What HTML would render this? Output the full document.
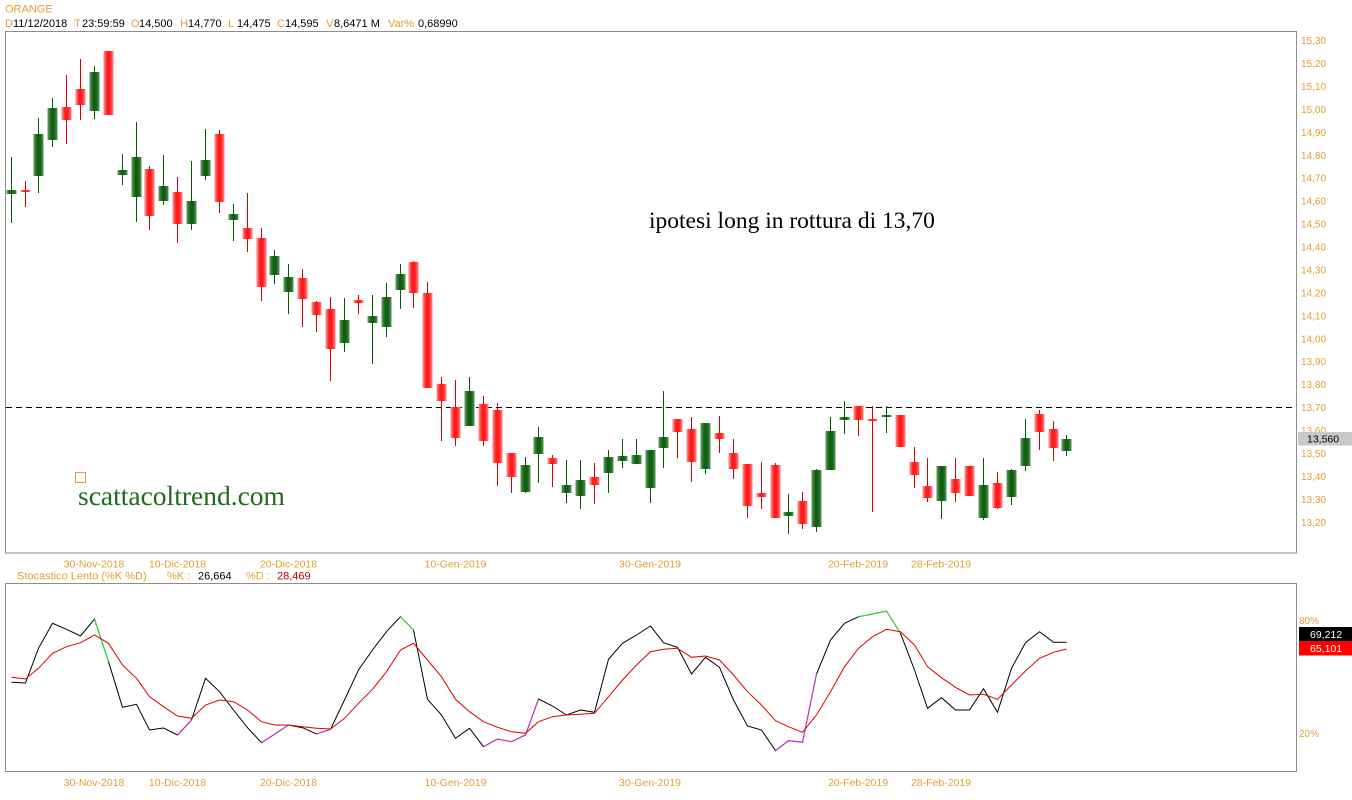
<!DOCTYPE html>
<html>
<head>
<meta charset="utf-8">
<style>
html,body{margin:0;padding:0;background:#fff;}
body{width:1352px;height:800px;overflow:hidden;}
svg{display:block;}
.o{fill:#e0a030;}
.t{font-family:"Liberation Sans",Arial,sans-serif;}
.wg{fill:#0a5a0a;}
.wr{fill:#d80000;}
</style>
</head>
<body>
<svg width="1352" height="800" viewBox="0 0 1352 800" xmlns="http://www.w3.org/2000/svg">
<defs>
<linearGradient id="G" x1="0" y1="0" x2="1" y2="0">
<stop offset="0" stop-color="#6a9e6a"/><stop offset="0.35" stop-color="#136313"/><stop offset="0.65" stop-color="#0e5e0e"/><stop offset="1" stop-color="#5a935a"/>
</linearGradient>
<linearGradient id="R" x1="0" y1="0" x2="1" y2="0">
<stop offset="0" stop-color="#ff9a9a"/><stop offset="0.35" stop-color="#ff1c1c"/><stop offset="0.65" stop-color="#ff1c1c"/><stop offset="1" stop-color="#ff8a8a"/>
</linearGradient>
</defs>
<rect x="0" y="0" width="1352" height="800" fill="#fff"/>

<!-- header -->
<g class="t" font-size="11">
<text x="5" y="12.5" class="o">ORANGE</text>
<text x="5" y="27" class="o">D</text><text x="13" y="27">11/12/2018</text>
<text x="74" y="27" class="o">T</text><text x="82" y="27">23:59:59</text>
<text x="131" y="27" class="o">O</text><text x="139" y="27">14,500</text>
<text x="180" y="27" class="o">H</text><text x="188" y="27">14,770</text>
<text x="228" y="27" class="o">L</text><text x="237" y="27">14,475</text>
<text x="277" y="27" class="o">C</text><text x="285" y="27">14,595</text>
<text x="326" y="27" class="o">V</text><text x="334" y="27">8,6471 M</text>
<text x="388" y="27" class="o">Var%</text><text x="418" y="27">0,68990</text>
</g>

<!-- frames -->
<rect x="5.5" y="31.5" width="1291" height="521.5" fill="none" stroke="#8c8c8c" stroke-width="1"/>
<rect x="5.5" y="583.5" width="1291" height="188" fill="none" stroke="#8c8c8c" stroke-width="1"/>

<!-- price axis labels -->
<g class="t o" font-size="10">
<text x="1301" y="44">15,30</text>
<text x="1301" y="67">15,20</text>
<text x="1301" y="90">15,10</text>
<text x="1301" y="113">15,00</text>
<text x="1301" y="136">14,90</text>
<text x="1301" y="159">14,80</text>
<text x="1301" y="181.5">14,70</text>
<text x="1301" y="204.5">14,60</text>
<text x="1301" y="227.5">14,50</text>
<text x="1301" y="250.5">14,40</text>
<text x="1301" y="273.5">14,30</text>
<text x="1301" y="296.5">14,20</text>
<text x="1301" y="319.5">14,10</text>
<text x="1301" y="342.5">14,00</text>
<text x="1301" y="365">13,90</text>
<text x="1301" y="388">13,80</text>
<text x="1301" y="411">13,70</text>
<text x="1301" y="434">13,60</text>
<text x="1301" y="457">13,50</text>
<text x="1301" y="480">13,40</text>
<text x="1301" y="503">13,30</text>
<text x="1301" y="526">13,20</text>
</g>
<rect x="1298" y="432" width="54" height="13.5" fill="#c8c8c8"/>
<text x="1307" y="442.5" class="t" font-size="10.5" fill="#000">13,560</text>

<!-- dashed line -->
<line x1="6" y1="407.5" x2="1296" y2="407.5" stroke="#000" stroke-width="1" stroke-dasharray="6,4"/>

<!-- candles -->
<g>
<rect x="11" y="157" width="1" height="66" class="wg"/><rect x="6.5" y="190" width="10" height="4" fill="url(#G)"/>
<rect x="25" y="181" width="1" height="26" class="wr"/><rect x="20.5" y="190" width="10" height="2" fill="url(#R)"/>
<rect x="38" y="118" width="1" height="75" class="wg"/><rect x="33.5" y="134" width="10" height="42" fill="url(#G)"/>
<rect x="52" y="98" width="1" height="49" class="wg"/><rect x="47.5" y="108" width="10" height="32" fill="url(#G)"/>
<rect x="66" y="75" width="1" height="69" class="wr"/><rect x="61.5" y="107" width="10" height="13" fill="url(#R)"/>
<rect x="80" y="59" width="1" height="61" class="wr"/><rect x="75.5" y="89" width="10" height="16" fill="url(#R)"/>
<rect x="94" y="66" width="1" height="53" class="wg"/><rect x="89.5" y="72" width="10" height="39" fill="url(#G)"/>
<rect x="108" y="51" width="1" height="64" class="wr"/><rect x="103.5" y="51" width="10" height="64" fill="url(#R)"/>
<rect x="122" y="154" width="1" height="31" class="wg"/><rect x="117.5" y="170" width="10" height="5" fill="url(#G)"/>
<rect x="136" y="122" width="1" height="100" class="wg"/><rect x="131.5" y="157" width="10" height="40" fill="url(#G)"/>
<rect x="149" y="166" width="1" height="64" class="wr"/><rect x="144.5" y="169" width="10" height="47" fill="url(#R)"/>
<rect x="163" y="155" width="1" height="50" class="wg"/><rect x="158.5" y="186" width="10" height="15" fill="url(#G)"/>
<rect x="177" y="177" width="1" height="66" class="wr"/><rect x="172.5" y="192" width="10" height="32" fill="url(#R)"/>
<rect x="191" y="161" width="1" height="69" class="wg"/><rect x="186.5" y="201" width="10" height="23" fill="url(#G)"/>
<rect x="205" y="129" width="1" height="51" class="wg"/><rect x="200.5" y="160" width="10" height="16" fill="url(#G)"/>
<rect x="219" y="130" width="1" height="83" class="wr"/><rect x="214.5" y="134" width="10" height="68" fill="url(#R)"/>
<rect x="233" y="204" width="1" height="37" class="wg"/><rect x="228.5" y="214" width="10" height="6" fill="url(#G)"/>
<rect x="247" y="193" width="1" height="59" class="wr"/><rect x="242.5" y="228" width="10" height="11" fill="url(#R)"/>
<rect x="261" y="228" width="1" height="73" class="wr"/><rect x="256.5" y="238" width="10" height="49" fill="url(#R)"/>
<rect x="274" y="250" width="1" height="34" class="wg"/><rect x="269.5" y="256" width="10" height="19" fill="url(#G)"/>
<rect x="288" y="264" width="1" height="50" class="wg"/><rect x="283.5" y="277" width="10" height="15" fill="url(#G)"/>
<rect x="302" y="269" width="1" height="58" class="wr"/><rect x="297.5" y="278" width="10" height="21" fill="url(#R)"/>
<rect x="316" y="301" width="1" height="31" class="wr"/><rect x="311.5" y="302" width="10" height="13" fill="url(#R)"/>
<rect x="330" y="297" width="1" height="84" class="wr"/><rect x="325.5" y="309" width="10" height="40" fill="url(#R)"/>
<rect x="344" y="298" width="1" height="54" class="wg"/><rect x="339.5" y="320" width="10" height="23" fill="url(#G)"/>
<rect x="358" y="295" width="1" height="19" class="wr"/><rect x="353.5" y="300" width="10" height="3" fill="url(#R)"/>
<rect x="372" y="295" width="1" height="69" class="wg"/><rect x="367.5" y="316" width="10" height="7" fill="url(#G)"/>
<rect x="386" y="283" width="1" height="54" class="wg"/><rect x="381.5" y="297" width="10" height="30" fill="url(#G)"/>
<rect x="400" y="264" width="1" height="45" class="wg"/><rect x="395.5" y="274" width="10" height="16" fill="url(#G)"/>
<rect x="413" y="261" width="1" height="47" class="wr"/><rect x="408.5" y="262" width="10" height="31" fill="url(#R)"/>
<rect x="427" y="282" width="1" height="106" class="wr"/><rect x="422.5" y="293" width="10" height="95" fill="url(#R)"/>
<rect x="441" y="377" width="1" height="64" class="wr"/><rect x="436.5" y="384" width="10" height="17" fill="url(#R)"/>
<rect x="455" y="380" width="1" height="66" class="wr"/><rect x="450.5" y="407" width="10" height="31" fill="url(#R)"/>
<rect x="469" y="377" width="1" height="49" class="wg"/><rect x="464.5" y="391" width="10" height="35" fill="url(#G)"/>
<rect x="483" y="396" width="1" height="50" class="wr"/><rect x="478.5" y="404" width="10" height="37" fill="url(#R)"/>
<rect x="497" y="403" width="1" height="83" class="wr"/><rect x="492.5" y="410" width="10" height="53" fill="url(#R)"/>
<rect x="511" y="453" width="1" height="40" class="wr"/><rect x="506.5" y="453" width="10" height="24" fill="url(#R)"/>
<rect x="525" y="457" width="1" height="36" class="wg"/><rect x="520.5" y="465" width="10" height="27" fill="url(#G)"/>
<rect x="538" y="427" width="1" height="56" class="wg"/><rect x="533.5" y="437" width="10" height="17" fill="url(#G)"/>
<rect x="552" y="455" width="1" height="32" class="wr"/><rect x="547.5" y="458" width="10" height="6" fill="url(#R)"/>
<rect x="566" y="460" width="1" height="43" class="wg"/><rect x="561.5" y="485" width="10" height="8" fill="url(#G)"/>
<rect x="580" y="460" width="1" height="49" class="wg"/><rect x="575.5" y="480" width="10" height="16" fill="url(#G)"/>
<rect x="594" y="463" width="1" height="41" class="wr"/><rect x="589.5" y="477" width="10" height="8" fill="url(#R)"/>
<rect x="608" y="450" width="1" height="43" class="wg"/><rect x="603.5" y="457" width="10" height="16" fill="url(#G)"/>
<rect x="622" y="439" width="1" height="29" class="wg"/><rect x="617.5" y="456" width="10" height="5" fill="url(#G)"/>
<rect x="636" y="439" width="1" height="25" class="wg"/><rect x="631.5" y="455" width="10" height="9" fill="url(#G)"/>
<rect x="650" y="450" width="1" height="53" class="wg"/><rect x="645.5" y="450" width="10" height="38" fill="url(#G)"/>
<rect x="663" y="391" width="1" height="77" class="wg"/><rect x="658.5" y="437" width="10" height="11" fill="url(#G)"/>
<rect x="677" y="419" width="1" height="39" class="wr"/><rect x="672.5" y="419" width="10" height="13" fill="url(#R)"/>
<rect x="691" y="417" width="1" height="65" class="wr"/><rect x="686.5" y="429" width="10" height="33" fill="url(#R)"/>
<rect x="705" y="423" width="1" height="51" class="wg"/><rect x="700.5" y="423" width="10" height="46" fill="url(#G)"/>
<rect x="719" y="416" width="1" height="37" class="wr"/><rect x="714.5" y="433" width="10" height="6" fill="url(#R)"/>
<rect x="733" y="439" width="1" height="40" class="wr"/><rect x="728.5" y="453" width="10" height="16" fill="url(#R)"/>
<rect x="747" y="464" width="1" height="54" class="wr"/><rect x="742.5" y="464" width="10" height="42" fill="url(#R)"/>
<rect x="761" y="462" width="1" height="47" class="wr"/><rect x="756.5" y="493" width="10" height="4" fill="url(#R)"/>
<rect x="775" y="463" width="1" height="55" class="wr"/><rect x="770.5" y="465" width="10" height="53" fill="url(#R)"/>
<rect x="788" y="494" width="1" height="40" class="wg"/><rect x="783.5" y="512" width="10" height="4" fill="url(#G)"/>
<rect x="802" y="492" width="1" height="37" class="wr"/><rect x="797.5" y="501" width="10" height="23" fill="url(#R)"/>
<rect x="816" y="469" width="1" height="63" class="wg"/><rect x="811.5" y="470" width="10" height="57" fill="url(#G)"/>
<rect x="830" y="417" width="1" height="53" class="wg"/><rect x="825.5" y="431" width="10" height="39" fill="url(#G)"/>
<rect x="844" y="401" width="1" height="33" class="wg"/><rect x="839.5" y="417" width="10" height="3" fill="url(#G)"/>
<rect x="858" y="406" width="1" height="30" class="wr"/><rect x="853.5" y="406" width="10" height="14" fill="url(#R)"/>
<rect x="872" y="406" width="1" height="106" class="wr"/><rect x="867.5" y="419" width="10" height="2" fill="url(#R)"/>
<rect x="886" y="406" width="1" height="27" class="wg"/><rect x="881.5" y="415" width="10" height="2" fill="url(#G)"/>
<rect x="900" y="415" width="1" height="32" class="wr"/><rect x="895.5" y="415" width="10" height="32" fill="url(#R)"/>
<rect x="914" y="447" width="1" height="41" class="wr"/><rect x="909.5" y="462" width="10" height="13" fill="url(#R)"/>
<rect x="927" y="458" width="1" height="44" class="wr"/><rect x="922.5" y="486" width="10" height="12" fill="url(#R)"/>
<rect x="941" y="466" width="1" height="53" class="wg"/><rect x="936.5" y="466" width="10" height="35" fill="url(#G)"/>
<rect x="955" y="458" width="1" height="44" class="wr"/><rect x="950.5" y="479" width="10" height="14" fill="url(#R)"/>
<rect x="969" y="466" width="1" height="30" class="wr"/><rect x="964.5" y="466" width="10" height="30" fill="url(#R)"/>
<rect x="983" y="458" width="1" height="62" class="wg"/><rect x="978.5" y="485" width="10" height="33" fill="url(#G)"/>
<rect x="997" y="472" width="1" height="37" class="wr"/><rect x="992.5" y="483" width="10" height="25" fill="url(#R)"/>
<rect x="1011" y="469" width="1" height="36" class="wg"/><rect x="1006.5" y="470" width="10" height="27" fill="url(#G)"/>
<rect x="1025" y="419" width="1" height="52" class="wg"/><rect x="1020.5" y="438" width="10" height="28" fill="url(#G)"/>
<rect x="1039" y="410" width="1" height="40" class="wr"/><rect x="1034.5" y="414" width="10" height="18" fill="url(#R)"/>
<rect x="1053" y="421" width="1" height="40" class="wr"/><rect x="1048.5" y="429" width="10" height="19" fill="url(#R)"/>
<rect x="1066" y="435" width="1" height="21" class="wg"/><rect x="1061.5" y="439" width="10" height="12" fill="url(#G)"/>
</g>

<!-- annotations -->
<text x="649" y="228" font-family="'Liberation Serif','Times New Roman',serif" font-size="23.5" fill="#000">ipotesi long in rottura di 13,70</text>
<rect x="75.5" y="472.5" width="10" height="10" fill="none" stroke="#e0a030" stroke-width="1"/>
<text x="78" y="505" font-family="'Liberation Serif','Times New Roman',serif" font-size="27.5" fill="#1b6d1b">scattacoltrend.com</text>

<!-- date labels -->
<g class="t o" font-size="10.5" text-anchor="middle">
<text x="94" y="567.5">30-Nov-2018</text>
<text x="177.5" y="567.5">10-Dic-2018</text>
<text x="288.5" y="567.5">20-Dic-2018</text>
<text x="455.5" y="567.5">10-Gen-2019</text>
<text x="650" y="567.5">30-Gen-2019</text>
<text x="858" y="567.5">20-Feb-2019</text>
<text x="941" y="567.5">28-Feb-2019</text>
<text x="94" y="786">30-Nov-2018</text>
<text x="177.5" y="786">10-Dic-2018</text>
<text x="288.5" y="786">20-Dic-2018</text>
<text x="455.5" y="786">10-Gen-2019</text>
<text x="650" y="786">30-Gen-2019</text>
<text x="858" y="786">20-Feb-2019</text>
<text x="941" y="786">28-Feb-2019</text>
</g>

<!-- stochastic header -->
<g class="t" font-size="11">
<text x="17" y="579.5" class="o">Stocastico Lento (%K %D)</text>
<text x="167" y="579.5" class="o">%K :</text>
<text x="198" y="579.5" fill="#000">26,664</text>
<text x="246" y="579.5" class="o">%D :</text>
<text x="277" y="579.5" fill="#c00000">28,469</text>
</g>

<!-- stochastic scale -->
<g class="t o" font-size="10">
<text x="1299" y="624">80%</text>
<text x="1299" y="737">20%</text>
</g>

<!-- %K -->
<polyline fill="none" stroke="#000" stroke-width="1" points="11.5,682.3 25.5,683 38.5,648.3 52.5,623.3 66.5,629.3 80.5,636 94.5,619 108.5,661.7 122.5,707.3 136.5,704.3 149.5,730 163.5,728 177.5,735 191.5,720 205.5,678.3 219.5,691.7 233.5,710 247.5,727.7 261.5,742.7 274.5,734.3 288.5,725 302.5,727.7 316.5,734 330.5,729.3 344.5,700 358.5,670 372.5,650 386.5,631.7 400.5,616.7 413.5,630 427.5,699.3 441.5,715 455.5,738.3 469.5,728.3 483.5,746.7 497.5,739 511.5,741.7 525.5,735 538.5,699 552.5,706 566.5,715 580.5,710 594.5,712.3 608.5,659.3 622.5,643.3 636.5,635 650.5,626 663.5,642.7 677.5,647.3 691.5,674 705.5,657.3 719.5,667.3 733.5,700 747.5,726 761.5,730 775.5,750.7 788.5,740.7 802.5,742.3 816.5,674 830.5,640 844.5,623.3 858.5,616.7 872.5,614 886.5,611 900.5,633.3 914.5,670 927.5,708.3 941.5,697.7 955.5,710 969.5,710 983.5,688.7 997.5,712.3 1011.5,668.3 1025.5,642.7 1039.5,631.7 1053.5,642.3 1066.5,642.3"/>
<g fill="none" stroke="#30dd30" stroke-width="1">
<polyline points="94.5,619 108.5,661.7"/>
<polyline points="400.5,616.7 413.5,630"/>
<polyline points="858.5,616.7 872.5,614 886.5,611 900.5,633.3"/>
</g>
<g fill="none" stroke="#cc33cc" stroke-width="1">
<polyline points="177.5,735 191.5,720"/>
<polyline points="261.5,742.7 274.5,734.3 288.5,725"/>
<polyline points="316.5,734 330.5,729.3"/>
<polyline points="483.5,746.7 497.5,739 511.5,741.7 525.5,735 538.5,699"/>
<polyline points="775.5,750.7 788.5,740.7 802.5,742.3 816.5,674"/>
</g>
<!-- %D -->
<polyline fill="none" stroke="#e00000" stroke-width="1" points="11.5,677.3 25.5,679 38.5,668.3 52.5,653.3 66.5,646.7 80.5,642.7 94.5,635 108.5,643.3 122.5,665 136.5,678.3 149.5,696.7 163.5,706.7 177.5,716 191.5,718.3 205.5,705 219.5,700 233.5,701.7 247.5,710 261.5,721.7 274.5,725 288.5,725 302.5,726.7 316.5,728.3 330.5,729 344.5,718.3 358.5,703.3 372.5,689.3 386.5,671.7 400.5,650 413.5,643.3 427.5,660 441.5,676.7 455.5,699.3 469.5,711.7 483.5,721.7 497.5,727.3 511.5,731.7 525.5,733.3 538.5,721.7 552.5,716.7 566.5,715 580.5,714.3 594.5,713.3 608.5,696.7 622.5,680 636.5,665 650.5,651.7 663.5,649.3 677.5,648.3 691.5,657.3 705.5,656 719.5,660 733.5,675 747.5,691.7 761.5,705 775.5,720.7 788.5,726.7 802.5,732.3 816.5,715 830.5,691.7 844.5,666.7 858.5,648.3 872.5,636.7 886.5,629.3 900.5,631.7 914.5,645 927.5,666.7 941.5,677.7 955.5,687.3 969.5,695 983.5,694.3 997.5,699.3 1011.5,685 1025.5,671 1039.5,658.3 1053.5,652.3 1066.5,649"/>

<!-- stochastic value boxes -->
<rect x="1299" y="627" width="53" height="14" fill="#000"/>
<text x="1310" y="638" class="t" font-size="10.5" fill="#fff">69,212</text>
<rect x="1299" y="641" width="53" height="14.5" fill="#ff0000"/>
<text x="1310" y="652" class="t" font-size="10.5" fill="#fff">65,101</text>
</svg>
</body>
</html>
